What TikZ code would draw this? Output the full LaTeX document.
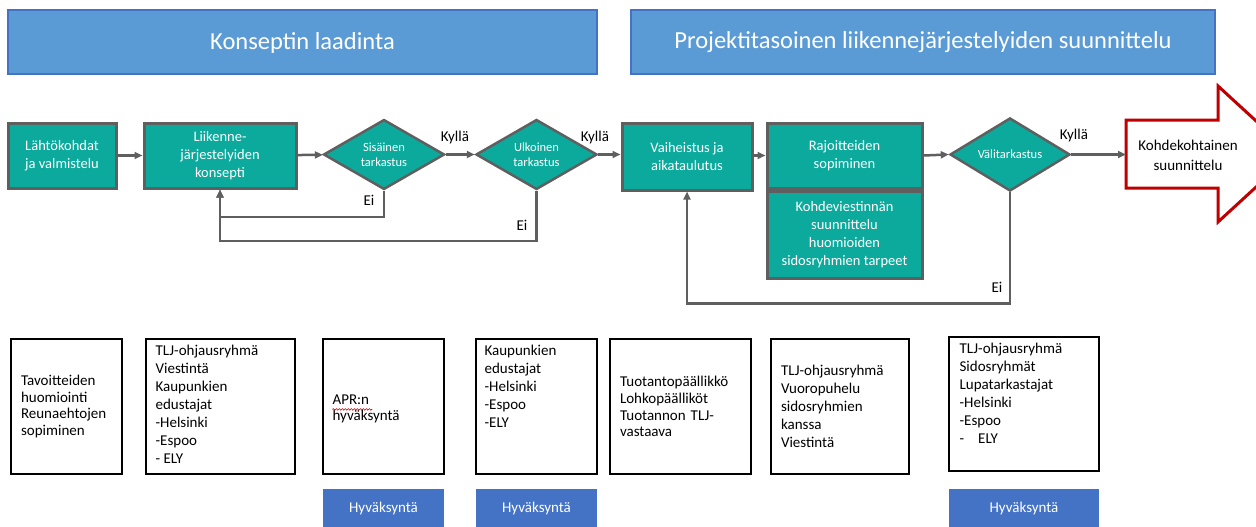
\documentclass[tikz,border=0pt]{standalone}
\usepackage{fontspec}
\setmainfont{Carlito}
\usetikzlibrary{shapes.geometric,arrows.meta,calc,decorations.pathmorphing}

\definecolor{stepteal}{RGB}{12,170,157}
\definecolor{linegray}{RGB}{95,95,95}
\definecolor{hdrfill}{RGB}{91,155,213}
\definecolor{hdrline}{RGB}{68,114,196}
\definecolor{btnblue}{RGB}{68,114,196}
\definecolor{arrowred}{RGB}{192,0,0}

\begin{document}
\begin{tikzpicture}[x=1pt,y=-1pt,
  header/.style={draw=hdrline, line width=2pt, fill=hdrfill, text=white,
    font=\fontsize{24.5}{28}\selectfont, inner sep=0, minimum height=64},
  stepbox/.style={draw=linegray, line width=3pt, fill=stepteal, text=white,
    align=center, font=\fontsize{14.5}{18}\selectfont, inner sep=0},
  decision/.style={diamond, draw=linegray, line width=2.5pt, fill=stepteal,
    text=white, align=center, font=\fontsize{12.5}{15}\selectfont, inner sep=0},
  flow/.style={draw=linegray, line width=2.5pt, -{Triangle[length=8pt,width=7pt]}},
  answer/.style={font=\fontsize{15}{17}\selectfont, inner sep=0},
  notebox/.style={draw=black, line width=1.2pt, fill=white, inner sep=0},
  notetext/.style={font=\fontsize{15}{18}\selectfont, align=left, inner sep=0},
  tightnote/.style={font=\fontsize{15}{16.7}\selectfont, align=left, inner sep=0},
  centrednote/.style={notebox, inner xsep=10},
  button/.style={fill=btnblue, text=white, font=\fontsize{15}{17}\selectfont, inner sep=0},
]
\useasboundingbox (0,0) rectangle (1256,527);

% phase headers
\node[header, minimum width=589] (h1) at (302.5,42.5) {Konseptin laadinta};
\node[header, minimum width=584] (h2) at (923,42.5) {Projektitasoinen liikennejärjestelyiden suunnittelu};

% process steps
\node[stepbox, minimum width=108, minimum height=65] (s1) at (62,155.5) {Lähtökohdat\\ja valmistelu};
\node[stepbox, minimum width=152, minimum height=65] (s2) at (220,155.5) {Liikenne-\\järjestelyiden\\konsepti};
\node[decision, minimum width=121, minimum height=63] (d1) at (384,154.5) {Sisäinen\\tarkastus};
\node[decision, minimum width=121, minimum height=63] (d2) at (536.5,154.5) {Ulkoinen\\tarkastus};
\node[stepbox, minimum width=130, minimum height=67] (s3) at (687,156.5) {Vaiheistus ja\\aikataulutus};
\node[stepbox, minimum width=155, minimum height=65] (s4) at (844.5,155.5) {Rajoitteiden\\sopiminen};
\node[stepbox, minimum width=155, minimum height=87, anchor=north] (s5) at (s4.south) {Kohdeviestinnän\\suunnittelu\\huomioiden\\sidosryhmien tarpeet};
\node[decision, minimum width=120, minimum height=65] (d3) at (1010,154.5) {Välitarkastus};

% outgoing block arrow
\draw[arrowred, line width=3pt, fill=white]
  (1126,120) -- (1218,120) -- (1218,86) -- (1292,154) -- (1218,222)
  -- (1218,188) -- (1126,188) -- cycle;
\node[align=center, font=\fontsize{15}{20}\selectfont, inner sep=0] (s6) at (1188,155) {Kohdekohtainen\\suunnittelu};
\coordinate (s6in) at (1126,154.5);

% main flow
\draw[flow] (s1) -- (s2);
\draw[flow] (s2) -- (d1);
\draw[flow] (d1) -- (d2);
\draw[flow] (d2.east) -- (s3.west |- d2.east);
\draw[flow] (s3.east |- s4.east) -- (s4);
\draw[flow] (s4.east) -- (d3.west);
\draw[flow] (d3) -- (s6in);

% rework loops
\draw[flow] (d1.south) -- ++(0,26.5) -| (s2.south);
\draw[flow] (d2.south) -- ++(0,50) -| (s2.south);
\draw[flow] (d3.south) -- ++(0,111) -| (s3.south);

% decision labels
\node[answer] (y1) at (455,138) {Kyllä};
\node[answer] (y2) at (595,138) {Kyllä};
\node[answer] (y3) at (1074,136) {Kyllä};
\node[answer] (n1) at (369,200) {Ei};
\node[answer] (n2) at (522,225) {Ei};
\node[answer] (n3) at (997,287) {Ei};

% notes below the steps
\node[centrednote, tightnote, minimum width=111, minimum height=135, text width=91] (b1) at (66.5,406.5)
  {Tavoitteiden\\huomiointi\\Reunaehtojen\\sopiminen};
\node[notebox, minimum width=149, minimum height=135] (b2) at (220.5,406.5) {};
\node[notetext, anchor=north west] (b2t) at ($(b2.north west)+(10,6)$)
  {TLJ-ohjausryhmä\\Viestintä\\Kaupunkien\\edustajat\\-Helsinki\\-Espoo\\- ELY};
\node[notebox, minimum width=121, minimum height=135] (b3) at (383.5,406.5) {};
\node[tightnote, anchor=north west] (b3t) at ($(b3.north west)+(10,56)$) {APR:n\\hyväksyntä};
\draw[red!80!black, line width=0.6pt, decorate,
  decoration={snake, amplitude=0.8pt, segment length=3pt}]
  ($(b3t.north west)+(0,15)$) -- ++(40,0);
\node[notebox, minimum width=121, minimum height=135] (b4) at (536.5,406.5) {};
\node[notetext, anchor=north west] (b4t) at ($(b4.north west)+(9,6)$)
  {Kaupunkien\\edustajat\\-Helsinki\\-Espoo\\-ELY};
\node[centrednote, tightnote, minimum width=141, minimum height=135, text width=121] (b5) at (680.5,406.5)
  {Tuotantopäällikkö\\Lohkopäälliköt\\Tuotannon TLJ-\\vastaava};
\node[centrednote, notetext, minimum width=138, minimum height=135, text width=118] (b6) at (840,406.5)
  {TLJ-ohjausryhmä\\Vuoropuhelu\\sidosryhmien\\kanssa\\Viestintä};
\node[notebox, minimum width=150, minimum height=134] (b7) at (1024,404) {};
\node[notetext, anchor=north west] (b7t) at ($(b7.north west)+(11,6)$)
  {TLJ-ohjausryhmä\\Sidosryhmät\\Lupatarkastajat\\-Helsinki\\-Espoo\\-\hspace{14pt}ELY};

% approval tags
\node[button, minimum width=121, minimum height=39] (a1) at (383.5,508.5) {Hyväksyntä};
\node[button, minimum width=121, minimum height=39] (a2) at (536.5,508.5) {Hyväksyntä};
\node[button, minimum width=150, minimum height=39] (a3) at (1024,508.5) {Hyväksyntä};
\end{tikzpicture}
\end{document}
